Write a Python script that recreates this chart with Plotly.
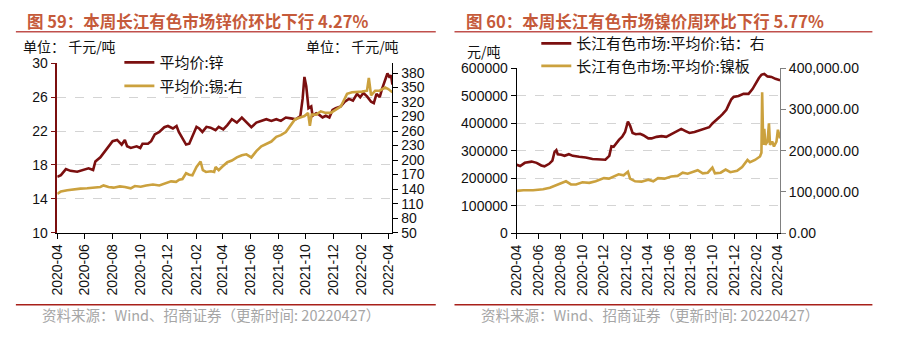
import plotly.graph_objects as go

# ---------------- data ----------------
tick_labels = ["2020-04", "2020-06", "2020-08", "2020-10", "2020-12", "2021-02", "2021-04",
               "2021-06", "2021-08", "2021-10", "2021-12", "2022-02", "2022-04"]
tick_dates = [t + "-01" for t in tick_labels]

zinc_dates = ["2020-04-01","2020-04-09","2020-04-20","2020-04-30","2020-05-15","2020-05-30","2020-06-09","2020-06-19","2020-06-24","2020-07-05",
              "2020-07-12","2020-07-23","2020-08-01","2020-08-11","2020-08-21","2020-08-28","2020-09-02","2020-09-10","2020-09-23","2020-10-01",
              "2020-10-06","2020-10-18","2020-10-25","2020-11-02","2020-11-12","2020-11-23","2020-12-01","2020-12-12","2020-12-20","2020-12-25",
              "2021-01-02","2021-01-10","2021-01-17","2021-01-24","2021-02-02","2021-02-08","2021-02-15","2021-02-24","2021-03-05","2021-03-16",
              "2021-03-23","2021-04-02","2021-04-11","2021-04-21","2021-05-02","2021-05-13","2021-05-23","2021-06-03","2021-06-14","2021-06-25",
              "2021-07-06","2021-07-17","2021-07-28","2021-08-07","2021-08-18","2021-08-29","2021-09-09","2021-09-19","2021-09-24","2021-09-28",
              "2021-10-02","2021-10-07","2021-10-13","2021-10-16","2021-10-24","2021-10-31","2021-11-07","2021-11-14","2021-11-22","2021-11-29",
              "2021-12-06","2021-12-17","2021-12-26","2022-01-04","2022-01-13","2022-01-22","2022-01-29","2022-02-05","2022-02-13","2022-02-22",
              "2022-02-28","2022-03-06","2022-03-13","2022-03-18","2022-03-25","2022-03-30","2022-04-04","2022-04-07","2022-04-10"]
zinc_vals = [16.6,16.8,17.5,17.3,17.2,17.4,17.6,17.4,18.4,18.9,
             19.4,20.2,20.8,20.95,20.4,20.95,20.2,20.0,20.2,20.0,
             20.5,20.5,20.8,21.6,21.9,22.45,22.6,22.3,22.6,21.9,
             21.1,20.4,20.5,21.3,22.5,22.3,21.9,22.5,22.4,22.1,
             22.5,22.2,22.7,23.4,23.0,23.6,23.0,22.45,23.0,23.2,
             23.4,23.2,23.4,23.2,23.6,23.5,23.4,23.77,25.8,28.4,
             27.3,24.7,24.9,23.8,24.1,23.9,23.6,23.8,23.6,24.5,
             24.7,24.9,25.46,25.8,25.6,26.4,26.0,26.5,26.1,25.46,
             25.3,26.4,26.0,26.95,28.1,28.8,28.3,28.6,27.5]

tin_dates = ["2020-04-01","2020-04-09","2020-04-23","2020-05-08","2020-05-22","2020-06-06","2020-06-20","2020-07-05","2020-07-12","2020-07-23",
             "2020-08-03","2020-08-17","2020-08-28","2020-09-10","2020-09-19","2020-10-02","2020-10-14","2020-10-29","2020-11-12","2020-11-27",
             "2020-12-08","2020-12-19","2020-12-26","2021-01-02","2021-01-10","2021-01-17","2021-01-24","2021-02-02","2021-02-11","2021-02-16",
             "2021-02-23","2021-03-06","2021-03-13","2021-03-16","2021-03-23","2021-03-30","2021-04-11","2021-04-21","2021-05-02","2021-05-13",
             "2021-05-23","2021-06-03","2021-06-14","2021-06-25","2021-07-06","2021-07-17","2021-07-28","2021-08-07","2021-08-18","2021-08-29",
             "2021-09-07","2021-09-17","2021-09-28","2021-10-06","2021-10-10","2021-10-14","2021-10-24","2021-11-03","2021-11-14","2021-11-25",
             "2021-12-06","2021-12-17","2021-12-24","2021-12-31","2022-01-11","2022-01-22","2022-02-02","2022-02-13","2022-02-17","2022-02-22",
             "2022-03-03","2022-03-13","2022-03-25","2022-04-01","2022-04-10"]
tin_vals = [130,135,137.8,139.7,141,141.7,143,144.4,147.6,144.4,
            143,145.6,144.4,141.7,146.3,145,147.6,149.6,147.6,153,
            156,155,159.4,160.8,172.7,169.6,168.5,185.7,197,179,
            175.5,176.8,175.5,185.7,179,185.7,195.6,199,205.5,210,
            212,205.5,218.6,228.5,233.8,238.3,248,251.5,258,271,
            284,287.6,291,297.5,271,294,294,300.8,297.5,297.5,
            304,310.7,323.7,337,340.3,340.3,341.5,343.4,370,333.6,
            343.4,343.4,350,346.7,340]

cobalt_dates = ["2020-04-01","2020-04-11","2020-04-24","2020-05-13","2020-05-27","2020-06-09","2020-06-18","2020-07-01","2020-07-10","2020-07-16",
                "2020-07-21","2020-07-25","2020-08-04","2020-08-13","2020-08-25","2020-09-05","2020-09-23","2020-10-11","2020-10-30","2020-11-17",
                "2020-12-05","2020-12-16","2020-12-22","2020-12-28","2021-01-03","2021-01-12","2021-01-21","2021-01-29","2021-02-06","2021-02-12",
                "2021-02-19","2021-02-28","2021-03-12","2021-03-21","2021-04-04","2021-04-13","2021-04-27","2021-05-11","2021-05-24","2021-06-07",
                "2021-06-21","2021-07-05","2021-07-17","2021-07-28","2021-08-11","2021-08-24","2021-09-07","2021-09-21","2021-09-30","2021-10-11",
                "2021-10-20","2021-10-29","2021-11-08","2021-11-15","2021-11-22","2021-11-28","2021-12-12","2021-12-26","2022-01-09","2022-01-20",
                "2022-01-29","2022-02-07","2022-02-14","2022-02-22","2022-03-03","2022-03-14","2022-03-25","2022-04-07"]
cobalt_vals = [248600,243900,255500,260000,255500,246000,242800,252000,263600,294800,
               301700,286800,285000,281000,286800,281000,277400,275000,269400,267000,
               267000,281000,315600,314000,325000,338800,350300,367600,405800,390800,
               364000,359600,361000,356000,344400,344400,350000,352600,350000,359600,
               371000,379000,371000,364000,367600,373400,379000,385000,398800,413700,
               422000,433500,448400,468000,486600,494900,498300,506300,506300,523700,
               544500,564000,575700,579000,569800,568000,560800,556000]

nickel_dates = ["2020-04-01","2020-04-20","2020-05-17","2020-06-14","2020-07-03","2020-07-21","2020-08-08","2020-08-17","2020-08-31","2020-09-14",
                "2020-10-02","2020-10-21","2020-11-08","2020-11-22","2020-12-01","2020-12-15","2020-12-28","2021-01-11","2021-01-25","2021-02-06",
                "2021-02-12","2021-02-26","2021-03-16","2021-04-04","2021-04-18","2021-05-01","2021-05-19","2021-06-07","2021-06-25","2021-07-09",
                "2021-07-23","2021-08-06","2021-08-20","2021-09-03","2021-09-17","2021-09-30","2021-10-07","2021-10-23","2021-11-06","2021-11-19",
                "2021-12-08","2021-12-22","2021-12-31","2022-01-06","2022-01-13","2022-01-27","2022-02-10","2022-02-14","2022-02-16","2022-02-19",
                "2022-02-22","2022-02-25","2022-03-03","2022-03-07","2022-03-10","2022-03-16","2022-03-21","2022-03-28","2022-04-01","2022-04-07"]
nickel_vals = [102500,104000,104000,106400,110200,115600,121800,125600,118000,118000,
               123300,121800,125600,129500,133300,132000,137200,142600,140000,148700,
               132000,125600,124800,129500,125600,133300,132000,137200,138700,146400,
               144000,148700,152600,144900,146400,158800,144900,146400,154100,147700,
               150900,160300,171900,177300,171900,177300,185700,195000,341400,214000,
               252800,214000,222000,265900,214000,222000,210000,222000,250500,229700]

# ---------------- style ----------------
W, H = 905, 347
DARK = "#7B0F0F"
GOLD = "#CBA13E"
NUM_FONT = "Liberation Sans, Arial, Noto Sans CJK SC"
CJK_FONT = "Noto Sans CJK SC, Liberation Sans"

def px(x):
    return x / W

def py(y):
    return 1 - y / H

fig = go.Figure()
fig.add_trace(go.Scatter(x=zinc_dates, y=zinc_vals, mode="lines", name="平均价:锌",
                         line=dict(color=DARK, width=2.6), xaxis="x", yaxis="y", legend="legend", legendgroup="a"))
fig.add_trace(go.Scatter(x=tin_dates, y=tin_vals, mode="lines", name="平均价:锡:右",
                         line=dict(color=GOLD, width=2.6), xaxis="x", yaxis="y2", legend="legend", legendgroup="b"))
fig.add_trace(go.Scatter(x=cobalt_dates, y=cobalt_vals, mode="lines", name="长江有色市场:平均价:钴：右",
                         line=dict(color=DARK, width=2.6), xaxis="x2", yaxis="y3", legend="legend2"))
fig.add_trace(go.Scatter(x=nickel_dates, y=nickel_vals, mode="lines", name="长江有色市场:平均价:镍板",
                         line=dict(color=GOLD, width=2.6), xaxis="x2", yaxis="y4", legend="legend2"))

tickfont = dict(family=NUM_FONT, size=14, color="#111111")
xcommon = dict(type="date", tickvals=tick_dates, ticktext=tick_labels, tickangle=-90,
               ticks="outside", ticklen=5, tickcolor="#000000", showline=True, linecolor="#000000",
               linewidth=1, showgrid=False, zeroline=False, tickfont=tickfont)
gridstyle = dict(showgrid=True, gridcolor="#D4D4D4", griddash="dash", gridwidth=1, zeroline=False)

fig.update_layout(
    width=W, height=H, margin=dict(l=0, r=0, t=0, b=0),
    paper_bgcolor="white", plot_bgcolor="white",
    xaxis=dict(domain=[px(50), px(390)], anchor="y", range=["2020-04-01", "2022-04-10"], **xcommon),
    yaxis=dict(domain=[py(235.5), py(58)], anchor="x", range=[10, 30], tick0=10, dtick=4,
               ticks="outside", ticklen=5, tickcolor=DARK, showline=True, linecolor=DARK, linewidth=1.5,
               tickfont=tickfont, **gridstyle),
    yaxis2=dict(overlaying="y", anchor="x", side="right", range=[50, 400], tick0=50, dtick=30,
                ticks="outside", ticklen=5, tickcolor="#000000", showline=True, linecolor="#000000",
                linewidth=1, showgrid=False, zeroline=False, tickfont=tickfont),
    xaxis2=dict(domain=[px(516), px(783.3)], anchor="y3", range=["2020-04-01", "2022-04-07"], **xcommon),
    yaxis3=dict(domain=[py(236), py(63)], anchor="x2", range=[0, 600000], tick0=0, dtick=100000,
                tickformat="d", ticks="outside", ticklen=5, tickcolor="#000000", showline=True,
                linecolor="#000000", linewidth=1, tickfont=tickfont, **gridstyle),
    yaxis4=dict(overlaying="y3", anchor="x2", side="right", range=[0, 400000], tick0=0, dtick=100000,
                tickformat=",.2f", ticks="outside", ticklen=5, tickcolor="#808080", showline=True,
                linecolor="#808080", linewidth=1, showgrid=False, zeroline=False, tickfont=tickfont),
    legend=dict(x=px(113), y=py(40), xanchor="left", yanchor="top", bgcolor="rgba(0,0,0,0)",
                font=dict(family=CJK_FONT, size=15, color="#111111"), traceorder="grouped",
                tracegroupgap=1),
    legend2=dict(x=px(536), y=py(20), xanchor="left", yanchor="top", bgcolor="rgba(0,0,0,0)",
                 font=dict(family=CJK_FONT, size=15, color="#111111"), tracegroupgap=0),
)

title_color = "#C55A3A"
annos = [
    dict(x=px(17), y=py(14), text="<b>图 59：本周长江有色市场锌价环比下行 4.27%</b>", font=dict(family=CJK_FONT, size=16.5, color=title_color)),
    dict(x=px(463), y=py(14), text="<b>图 60：本周长江有色市场镍价周环比下行 5.77%</b>", font=dict(family=CJK_FONT, size=16.5, color=title_color)),
    dict(x=px(13), y=py(39.5), text="单位： 千元/吨", font=dict(family=CJK_FONT, size=14, color="#111111")),
    dict(x=px(300), y=py(39.5), text="单位： 千元/吨", font=dict(family=CJK_FONT, size=14, color="#111111")),
    dict(x=px(464), y=py(45), text="元/吨", font=dict(family=CJK_FONT, size=14, color="#111111")),
    dict(x=px(32), y=py(321), text="资料来源：Wind、招商证券（更新时间: 20220427）", font=dict(family=CJK_FONT, size=14.5, color="#A6A6A6")),
    dict(x=px(478), y=py(321), text="资料来源：Wind、招商证券（更新时间: 20220427）", font=dict(family=CJK_FONT, size=14.5, color="#A6A6A6")),
]
for a in annos:
    fig.add_annotation(xref="paper", yref="paper", xanchor="left", yanchor="middle", showarrow=False, **a)

for x0, x1 in [(8, 434), (453, 877)]:
    fig.add_shape(type="line", xref="paper", yref="paper", x0=px(x0), x1=px(x1), y0=py(25), y1=py(25),
                  line=dict(color="#C0504D", width=1.5))
    fig.add_shape(type="line", xref="paper", yref="paper", x0=px(x0), x1=px(x1), y0=py(311), y1=py(311),
                  line=dict(color="#A8201A", width=1.5))

fig.write_html("out.html")
